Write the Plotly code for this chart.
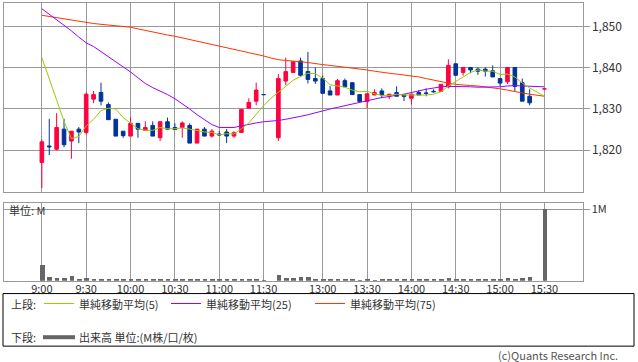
import plotly.graph_objects as go

W, H = 638, 362

# ---------------- data ----------------
morning = [f"{h}:{m:02d}" for h in (9, 10, 11) for m in range(0, 60, 5)]
morning = morning[:morning.index("11:30") + 1]
afternoon = [f"{h}:{m:02d}" for h in (12, 13, 14, 15) for m in range(0, 60, 5)]
afternoon = afternoon[afternoon.index("12:30"):afternoon.index("15:30") + 1]
slots = morning + ["12:25"] + afternoon          # 5-minute slots

tick_labels = ["9:00", "9:30", "10:00", "10:30", "11:00", "11:30",
               "13:00", "13:30", "14:00", "14:30", "15:00", "15:30"]

opens = [1817.0, 1821.0, 1820.2, 1825.1, 1822.2, 1825.1, 1824.3, 1832.4, 1834.0, 1831.1,
         1827.5, 1824.6, 1823.4, 1826.5, 1824.8, 1826.0, 1823.0, 1826.9, 1825.5, 1825.5,
         1826.0, 1821.7, 1825.1, 1823.4, 1823.9, 1824.4, 1823.4, 1824.3, 1830.2, 1831.9,
         1833.5, None, 1823.0, 1836.8, 1838.9, 1841.7, 1839.1, 1837.4, 1837.4, 1834.4,
         1833.4, 1836.9, 1836.4, 1833.5, 1831.8, 1833.4, 1834.4, 1833.1, 1834.0, 1833.4,
         1832.6, 1834.0, 1833.9, 1834.3, 1834.3, 1835.4, 1841.0, 1838.9, 1840.1, 1839.7,
         1839.7, 1839.3, 1837.4, 1836.6, 1840.1, 1836.4, 1833.1, None, 1834.9]
highs = [1822.6, 1827.6, 1829.0, 1827.6, 1824.6, 1825.6, 1834.0, 1834.4, 1836.4, 1831.6,
         1827.5, 1824.6, 1828.0, 1826.5, 1827.0, 1827.0, 1826.9, 1827.9, 1826.5, 1827.0,
         1826.5, 1825.1, 1825.6, 1825.1, 1824.6, 1825.1, 1824.6, 1829.9, 1832.6, 1836.4,
         1833.5, None, 1838.5, 1842.5, 1841.5, 1842.5, 1843.9, 1840.1, 1838.1, 1835.6,
         1837.3, 1837.4, 1836.4, 1833.5, 1833.7, 1834.8, 1835.0, 1833.6, 1835.5, 1833.4,
         1833.6, 1834.6, 1835.0, 1834.8, 1836.0, 1842.1, 1841.0, 1840.1, 1840.1, 1840.1,
         1840.1, 1840.6, 1837.4, 1840.1, 1840.1, 1837.4, 1834.8, None, 1835.0]
lows = [1810.8, 1818.8, 1819.9, 1820.7, 1817.9, 1821.7, 1823.8, 1831.4, 1830.9, 1827.4,
        1823.4, 1823.0, 1823.4, 1823.0, 1824.8, 1823.4, 1822.2, 1825.1, 1825.0, 1823.0,
        1821.7, 1821.7, 1823.4, 1823.0, 1823.4, 1821.7, 1823.0, 1824.3, 1830.2, 1830.9,
        1833.5, None, 1822.2, 1835.8, 1838.9, 1837.9, 1836.2, 1836.1, 1833.8, 1833.4,
        1833.4, 1835.4, 1833.5, 1831.8, 1830.2, 1833.4, 1832.6, 1832.4, 1833.1, 1831.9,
        1831.1, 1833.4, 1833.1, 1834.0, 1834.3, 1835.0, 1838.2, 1838.1, 1838.7, 1838.3,
        1837.9, 1837.8, 1835.6, 1836.1, 1834.3, 1831.9, 1830.9, None, 1834.8]
closes = [1822.0, 1820.8, 1825.5, 1821.3, 1824.6, 1824.4, 1833.6, 1833.5, 1831.9, 1827.4,
          1823.4, 1823.5, 1826.5, 1825.1, 1825.5, 1823.4, 1826.9, 1825.1, 1825.0, 1826.6,
          1821.7, 1825.1, 1823.4, 1824.6, 1823.7, 1823.4, 1824.2, 1829.9, 1831.6, 1834.6,
          1833.5, None, 1837.4, 1839.1, 1841.5, 1838.2, 1837.2, 1836.8, 1833.8, 1833.4,
          1836.9, 1835.4, 1833.5, 1831.8, 1833.7, 1834.0, 1833.4, 1833.6, 1833.1, 1833.1,
          1833.6, 1833.4, 1833.8, 1834.2, 1836.0, 1840.6, 1838.2, 1840.1, 1839.5, 1839.2,
          1839.2, 1837.8, 1836.3, 1840.1, 1835.5, 1831.9, 1831.5, None, 1834.9]

ma5 = [1842.5, 1837.6, 1832.2, 1827.0, 1822.8, 1823.3, 1825.9, 1827.5, 1829.6, 1830.2,
       1830.0, 1827.9, 1826.5, 1825.2, 1824.8, 1824.8, 1825.5, 1825.2, 1825.2, 1825.4,
       1825.1, 1824.7, 1824.4, 1824.3, 1823.7, 1824.0, 1823.9, 1825.2, 1826.6, 1828.7,
       1830.8, 1832.6, 1834.1, 1835.6, 1837.0, 1837.9, 1838.7, 1838.6, 1837.5, 1835.9,
       1835.6, 1835.3, 1834.6, 1834.2, 1834.3, 1833.7, 1833.3, 1833.3, 1833.6, 1833.4,
       1833.4, 1833.4, 1833.4, 1833.6, 1834.2, 1835.6, 1836.6, 1837.8, 1838.9, 1839.5,
       1839.2, 1839.2, 1838.4, 1838.5, 1837.8, 1836.3, 1835.1, 1834.1, 1833.1]
ma25 = [1854.4, 1853.1, 1851.8, 1850.3, 1849.0, 1847.5, 1846.1, 1845.2, 1844.0, 1842.8,
        1841.5, 1840.3, 1839.0, 1837.6, 1836.2, 1835.2, 1834.4, 1833.5, 1832.5, 1831.3,
        1830.0, 1828.6, 1827.3, 1826.2, 1825.5, 1825.5, 1825.5, 1825.9, 1826.3, 1826.6,
        1826.9, 1827.0, 1827.2, 1827.5, 1827.8, 1828.2, 1828.6, 1829.1, 1829.5, 1830.0,
        1830.4, 1830.8, 1831.2, 1831.6, 1832.0, 1832.5, 1832.8, 1833.0, 1833.4, 1833.6,
        1834.0, 1834.5, 1834.8, 1835.1, 1835.4, 1835.5, 1835.5, 1835.5, 1835.4, 1835.3,
        1835.3, 1835.3, 1835.4, 1835.6, 1835.7, 1835.6, 1835.5, 1835.4, 1835.4]
ma75 = [1852.8, 1852.5, 1852.2, 1851.9, 1851.6, 1851.3, 1851.0, 1850.8, 1850.6, 1850.4,
        1850.2, 1850.0, 1849.9, 1849.5, 1849.1, 1848.8, 1848.4, 1848.0, 1847.7, 1847.3,
        1846.9, 1846.5, 1846.1, 1845.7, 1845.3, 1844.9, 1844.6, 1844.2, 1843.8, 1843.4,
        1842.9, 1842.4, 1842.0, 1841.8, 1841.7, 1841.5, 1841.3, 1841.0, 1840.8, 1840.6,
        1840.4, 1840.2, 1840.0, 1839.8, 1839.5, 1839.2, 1838.9, 1838.7, 1838.5, 1838.3,
        1838.1, 1837.8, 1837.4, 1837.0, 1836.7, 1836.3, 1836.0, 1835.8, 1835.7, 1835.6,
        1835.4, 1835.2, 1834.9, 1834.6, 1834.2, 1833.9, 1833.6, 1833.3, 1833.1]

volume_m = [0.222, 0.046, 0.032, 0.032, 0.060, 0.014, 0.042, 0.028, 0.028, 0.014,
            0.014, 0.014, 0.028, 0.014, 0.014, 0.014, 0.028, 0.014, 0.014, 0.028,
            0.014, 0.014, 0.014, 0.014, 0.014, 0.014, 0.014, 0.014, 0.014, 0.028,
            0.004, None, 0.083, 0.042, 0.032, 0.046, 0.056, 0.020, 0.014, 0.014,
            0.028, 0.014, 0.014, 0.006, 0.028, 0.006, 0.014, 0.014, 0.014, 0.014,
            0.028, 0.014, 0.014, 0.014, 0.014, 0.042, 0.028, 0.014, 0.028, 0.014,
            0.028, 0.028, 0.028, 0.042, 0.028, 0.042, 0.056, None, 1.010]

price_ticks = [1820, 1830, 1840, 1850]

# ---------------- styles ----------------
RED = "#ff0040"
BLUE = "#003399"
C_MA5 = "#99cc00"
C_MA25 = "#9900ff"
C_MA75 = "#ff3300"
GRID = "#999999"
VOLC = "#666666"
FONT = "Noto Sans CJK JP"

idx = list(range(len(slots)))
tickvals = [slots.index(t) for t in tick_labels]


def px(x):
    return x / W


def py(y):
    return 1 - y / H


fig = go.Figure()
fig.add_trace(go.Candlestick(
    x=idx, open=opens, high=highs, low=lows, close=closes,
    increasing=dict(line=dict(color=RED, width=1), fillcolor=RED),
    decreasing=dict(line=dict(color=BLUE, width=1), fillcolor=BLUE),
    whiskerwidth=0, xaxis="x", yaxis="y", showlegend=False, hoverinfo="skip"))
for vals, col in ((ma75, C_MA75), (ma25, C_MA25), (ma5, C_MA5)):
    fig.add_trace(go.Scatter(x=idx, y=vals, mode="lines",
                             line=dict(color=col, width=1),
                             xaxis="x", yaxis="y", showlegend=False, hoverinfo="skip"))
fig.add_trace(go.Bar(x=idx, y=volume_m, marker=dict(color=VOLC, line=dict(width=0)),
                     width=0.63, xaxis="x2", yaxis="y2", showlegend=False, hoverinfo="skip"))

x_range = [-5.19, 73.15]
x_dom = [px(3.5), px(582.5)]
common_x = dict(range=x_range, domain=x_dom, tickvals=tickvals, ticktext=tick_labels,
                showgrid=True, gridcolor=GRID, gridwidth=1, showline=True, mirror=True,
                linecolor=GRID, linewidth=1, zeroline=False, ticks="", fixedrange=True)

fig.update_layout(
    width=W, height=H,
    margin=dict(l=0, r=0, t=0, b=0),
    paper_bgcolor="white", plot_bgcolor="white",
    font=dict(family=FONT, size=11, color="#333333"),
    separators=".,",
    bargap=0,
    xaxis=dict(**common_x, anchor="y", showticklabels=False,
               rangeslider=dict(visible=False)),
    yaxis=dict(range=[1809.77, 1855.67], domain=[py(190.7), py(0.5)], side="right",
               tickvals=price_ticks, tickformat=",d", ticks="outside", ticklen=6,
               tickcolor=GRID, showgrid=True, gridcolor=GRID, showline=True, mirror=True,
               linecolor=GRID, zeroline=False, anchor="x", fixedrange=True,
               tickfont=dict(size=12, color="#333333")),
    xaxis2=dict(**common_x, anchor="y2", showticklabels=True, ticklabelstandoff=-2,
                tickfont=dict(size=11, color="#333333")),
    yaxis2=dict(range=[0, 1.092], domain=[py(280), py(201.7)], side="right",
                tickvals=[1], ticktext=["1M"], ticks="outside", ticklen=6,
                tickcolor=GRID, showgrid=True, gridcolor=GRID, showline=True, mirror=True,
                linecolor=GRID, zeroline=False, anchor="x2", fixedrange=True,
                tickfont=dict(size=11, color="#333333")),
)

shapes = [
    dict(type="rect", xref="paper", yref="paper", x0=px(3), x1=px(634), y0=py(346), y1=py(293),
         line=dict(color="#000000", width=1)),
    dict(type="line", xref="paper", yref="paper", x0=px(44), x1=px(74), y0=py(303), y1=py(303),
         line=dict(color=C_MA5, width=1)),
    dict(type="line", xref="paper", yref="paper", x0=px(171), x1=px(201), y0=py(303), y1=py(303),
         line=dict(color=C_MA25, width=1)),
    dict(type="line", xref="paper", yref="paper", x0=px(315), x1=px(345), y0=py(303), y1=py(303),
         line=dict(color=C_MA75, width=1)),
    dict(type="line", xref="paper", yref="paper", x0=px(43), x1=px(75), y0=py(337), y1=py(337),
         line=dict(color=VOLC, width=4)),
]
fig.update_layout(shapes=shapes)


def label(text, x, y, anchor="left", size=11, color="#333333"):
    fig.add_annotation(text=text, xref="paper", yref="paper", x=px(x), y=py(y),
                       xanchor=anchor, yanchor="middle", showarrow=False, borderpad=0,
                       font=dict(family=FONT, size=size, color=color))


label("単位: M", 8, 209)
label("上段:", 10, 304)
label("単純移動平均(5)", 78, 304)
label("単純移動平均(25)", 205, 304)
label("単純移動平均(75)", 349, 304)
label("下段:", 10, 337)
label("出来高 単位:(M株/口/枚)", 78, 337)
label("(c)Quants Research Inc.", 619, 355, anchor="right", size=11, color="#555555")

fig.write_html("out.html",
               config={"displayModeBar": False},
               post_script="document.body.style.margin='0';"
                           "document.body.style.overflow='hidden';")
